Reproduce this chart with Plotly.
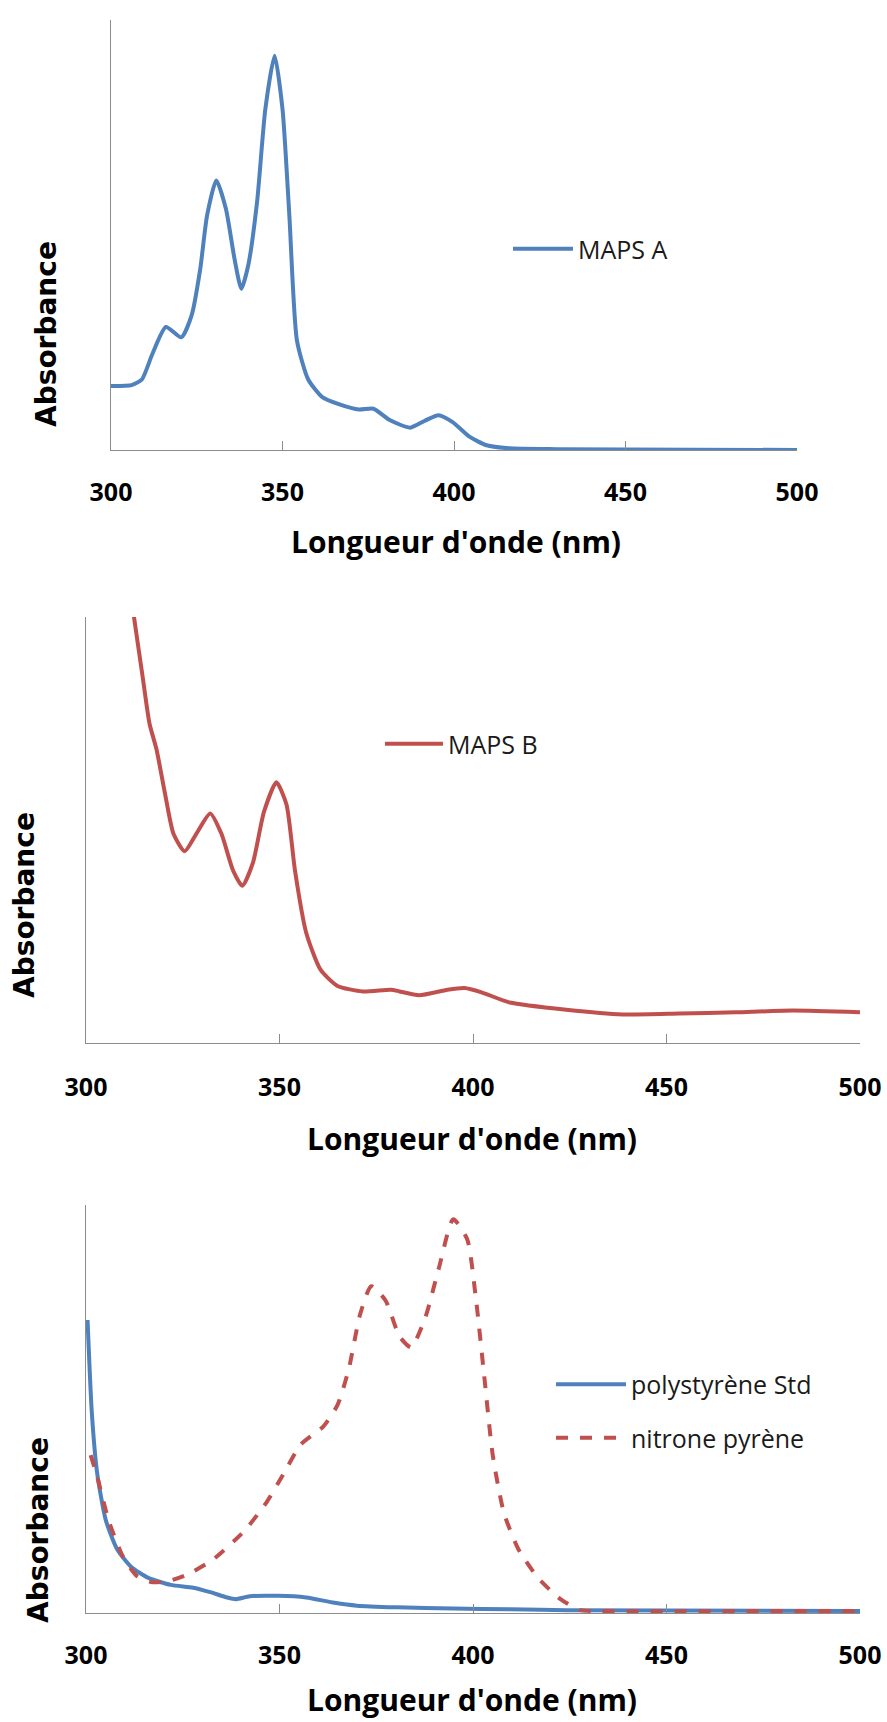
import plotly.graph_objects as go

# --- data (wavelength in nm, absorbance in arbitrary units) ---
maps_a_nm = [300, 306, 309, 312, 316, 320.5, 323.5, 326, 328, 330.7, 333.5, 336, 338, 340,
             342.6, 345, 347.7, 350, 352, 354.2, 357.5, 361.6, 366.6, 372.3, 376.5, 381.4,
             387.2, 391.5, 395.5, 399.6, 404.5, 409.5, 416, 430, 500]
maps_a_abs = [0.149, 0.151, 0.164, 0.222, 0.286, 0.262, 0.313, 0.42, 0.545, 0.627, 0.561,
              0.445, 0.375, 0.429, 0.578, 0.793, 0.917, 0.793, 0.545, 0.255, 0.164, 0.123,
              0.106, 0.094, 0.096, 0.069, 0.052, 0.068, 0.081, 0.065, 0.031, 0.011, 0.004,
              0.002, 0.0]

maps_b_nm = [311, 312.4, 314.6, 316.4, 318.2, 320.4, 322.6, 325.5, 328.5, 332.1, 335, 338,
             340.4, 343.1, 346, 349.2, 351.8, 354, 356.9, 360.6, 365, 371.5, 378.8, 381,
             386.1, 393.4, 397.8, 402.2, 409.5, 424.1, 438.7, 453.3, 467.9, 482.5, 500]
maps_b_abs = [1.1, 1.0, 0.862, 0.75, 0.69, 0.586, 0.491, 0.45, 0.491, 0.539, 0.491, 0.405,
              0.369, 0.422, 0.543, 0.612, 0.56, 0.405, 0.259, 0.172, 0.134, 0.121, 0.125,
              0.121, 0.112, 0.125, 0.129, 0.119, 0.095, 0.078, 0.067, 0.069, 0.072, 0.076,
              0.072]

ps_nm = [300.4, 301.5, 302.9, 305.1, 308, 311.7, 316.1, 321.9, 327.7, 332.1, 336.5, 338.7,
         342.3, 349.6, 356.9, 364.2, 370, 380.3, 394.9, 409.5, 424.1, 500]
ps_abs = [0.718, 0.492, 0.342, 0.228, 0.157, 0.113, 0.086, 0.069, 0.062, 0.051, 0.038, 0.034,
          0.041, 0.042, 0.038, 0.025, 0.018, 0.014, 0.011, 0.009, 0.007, 0.005]

np_nm = [301.2, 302.9, 305.8, 309.5, 313.1, 316.8, 321.2, 326.3, 332.8, 340.9, 346.7, 351.1,
         355.5, 361.3, 365, 367.9, 370.8, 373.7, 377.4, 381, 384, 387.6, 391.2, 394.9, 398.5,
         400.7, 402.9, 405.1, 408, 411.7, 416.8, 422.6, 427.7, 433, 500]
np_abs = [0.387, 0.334, 0.228, 0.139, 0.091, 0.076, 0.078, 0.095, 0.131, 0.201, 0.272, 0.342,
          0.413, 0.457, 0.51, 0.598, 0.731, 0.801, 0.766, 0.678, 0.651, 0.722, 0.846, 0.965,
          0.916, 0.775, 0.581, 0.387, 0.245, 0.157, 0.086, 0.034, 0.007, 0.005, 0.005]

x_ticks = [300, 350, 400, 450, 500]
x_title = "Longueur d'onde (nm)"
y_title = "Absorbance"

BLUE = "#4F81BD"
RED = "#C0504D"
AXIS = "#8c8c8c"

W, H = 887, 1722


def px_x(v):
    return v / W


def px_y(v):
    return 1 - v / H


spline = dict(width=4, shape="spline", smoothing=0.6)

fig = go.Figure()
fig.add_trace(go.Scatter(x=maps_a_nm, y=maps_a_abs, name="MAPS A", mode="lines",
                         line=dict(color=BLUE, **spline), showlegend=True,
                         xaxis="x", yaxis="y", legend="legend"))
fig.add_trace(go.Scatter(x=maps_b_nm, y=maps_b_abs, name="MAPS B", mode="lines",
                         line=dict(color=RED, **spline), showlegend=True,
                         xaxis="x2", yaxis="y2", legend="legend2"))
fig.add_trace(go.Scatter(x=ps_nm, y=ps_abs, name="polystyrène Std", mode="lines",
                         line=dict(color=BLUE, **spline), showlegend=True,
                         xaxis="x3", yaxis="y3", legend="legend3", legendgroup="a"))
fig.add_trace(go.Scatter(x=np_nm, y=np_abs, name="nitrone pyrène", mode="lines",
                         line=dict(color=RED, dash="dash", **spline), showlegend=True,
                         xaxis="x3", yaxis="y3", legend="legend3", legendgroup="b"))

tick_font = dict(family="Open Sans, sans-serif", size=25, color="black")
title_font = dict(family="Open Sans, sans-serif", size=30, color="black")
leg_font = dict(family="Open Sans, sans-serif", size=25, color="#1a1a1a")
ytitle_font = dict(family="DejaVu Sans, sans-serif", size=28, color="black")

# x left, x right, y top, y bottom (page pixels), tick label standoff
panels = [
    (111, 797, 20, 450, 20),
    (86, 860, 617, 1043, 22),
    (86, 860, 1205, 1613, 20),
]
names = ["", "2", "3"]

layout = dict(width=W, height=H, paper_bgcolor="white", plot_bgcolor="white",
              margin=dict(l=0, r=0, t=0, b=0, autoexpand=False), showlegend=True)
for (l, r, t, b, stand), n in zip(panels, names):
    layout["xaxis" + n] = dict(
        domain=[px_x(l), px_x(r)], anchor="y" + n, range=[300, 500], tickvals=x_ticks,
        ticktext=["<b>%d</b>" % t for t in x_ticks], showgrid=False, zeroline=False,
        showline=True, linecolor=AXIS, linewidth=1.3, ticks="inside", ticklen=9,
        tickcolor=AXIS, tickwidth=1.3, tickfont=tick_font, ticklabelstandoff=stand)
    layout["yaxis" + n] = dict(
        domain=[px_y(b), px_y(t)], anchor="x" + n, range=[0, 1], showgrid=False,
        zeroline=False, showline=True, linecolor=AXIS, linewidth=1.3,
        showticklabels=False, ticks="")
fig.update_layout(**layout)

# axis titles
for xc, yc in [(456, 541), (472, 1138), (472, 1699)]:
    fig.add_annotation(text="<b>%s</b>" % x_title, x=px_x(xc), y=px_y(yc), xref="paper",
                       yref="paper", showarrow=False, font=title_font, borderpad=0,
                       xanchor="center", yanchor="middle")
for xc, yc in [(47, 334), (24, 905), (38, 1530)]:
    fig.add_annotation(text="<b>%s</b>" % y_title, x=px_x(xc), y=px_y(yc), xref="paper",
                       yref="paper", showarrow=False, textangle=-90, font=ytitle_font,
                       xanchor="center", yanchor="middle")

fig.update_layout(
    legend=dict(x=px_x(508), y=px_y(249), xanchor="left", yanchor="middle",
                font=leg_font, bgcolor="rgba(0,0,0,0)", itemwidth=60),
    legend2=dict(x=px_x(380), y=px_y(744), xanchor="left", yanchor="middle",
                 font=leg_font, bgcolor="rgba(0,0,0,0)", itemwidth=58),
    legend3=dict(x=px_x(551), y=px_y(1411), xanchor="left", yanchor="middle",
                 font=leg_font, bgcolor="rgba(0,0,0,0)", itemwidth=70,
                 traceorder="grouped", tracegroupgap=18),
)

# drop the default 8px body margin so the figure fills the page exactly
fig.write_html("out.html", config={"displayModeBar": False},
               post_script="document.body.style.margin='0px';")
